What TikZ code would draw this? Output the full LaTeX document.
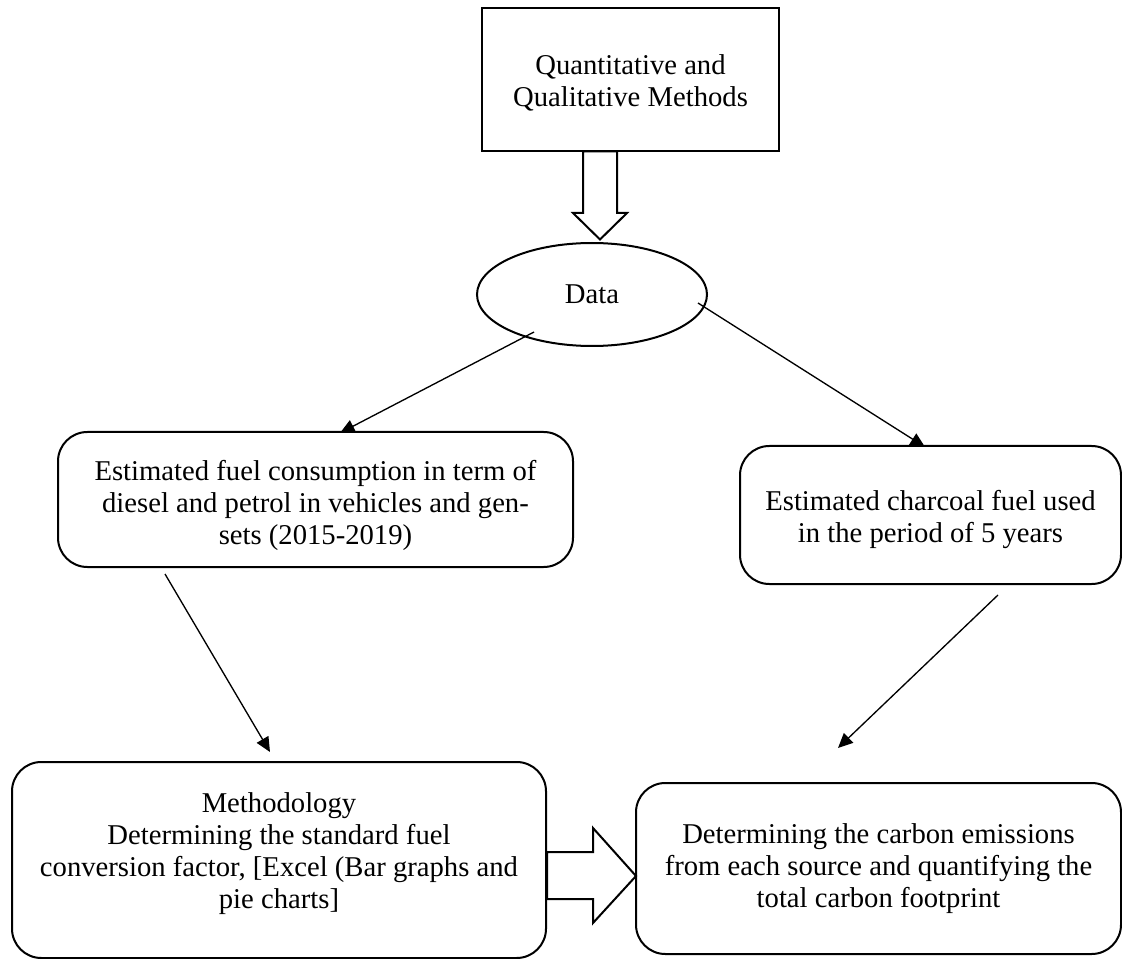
\documentclass[tikz,border=0pt]{standalone}
\usepackage{fontspec}
\setmainfont{Liberation Serif}
\usetikzlibrary{arrows.meta,shapes.geometric}
\newcommand\shiftedtext[2]{\raisebox{#1}[\height][\depth]{\begin{tabular}{@{}c@{}}#2\end{tabular}}}
\tikzset{
  sqbox/.style={draw,line width=1.5pt,rectangle,align=center,inner sep=0pt},
  rbox/.style={draw,line width=1.5pt,rectangle,rounded corners=22pt,align=center,inner sep=0pt},
  oval/.style={draw,line width=1.5pt,ellipse,inner sep=0pt},
  conn/.style={line width=1pt,-{Triangle[length=11pt,width=10pt]}},
  hollow/.style={draw,line width=1.5pt,fill=white,line join=miter}
}
\begin{document}
\begin{tikzpicture}[x=0.75pt,y=-0.75pt,font=\fontsize{21.5}{24}\selectfont]
\useasboundingbox (0,0) rectangle (1122,959);
\node[sqbox,minimum width=222.75pt,minimum height=107.25pt] (top) at (630.5,79.5) {\shiftedtext{-3.75pt}{Quantitative and\\Qualitative Methods}};
\node[oval,minimum width=172.5pt,minimum height=77.25pt] (data) at (592,294.5) {Data};
\node[rbox,minimum width=386.25pt,minimum height=101.25pt] (fuel) at (315.5,499.5) {\shiftedtext{-5pt}{Estimated fuel consumption in term of\\diesel and petrol in vehicles and gen-\\sets (2015-2019)}};
\node[rbox,minimum width=285.75pt,minimum height=103.5pt] (char) at (930.5,515) {\shiftedtext{-3.75pt}{Estimated charcoal fuel used\\in the period of 5 years}};
\node[rbox,minimum width=400.5pt,minimum height=147pt] (meth) at (279,860) {\shiftedtext{4.5pt}{Methodology\\Determining the standard fuel\\conversion factor, [Excel (Bar graphs and\\pie charts]}};
\node[rbox,minimum width=363.75pt,minimum height=128.25pt] (emis) at (878.5,868.5) {Determining the carbon emissions\\from each source and quantifying the\\total carbon footprint};
% connector end points
\coordinate (s1) at (534,332);
\coordinate (e1) at (340,433);
\coordinate (s2) at (698,303);
\coordinate (e2) at (925,447);
\coordinate (s3) at (165,574);
\coordinate (e3) at (270,752);
\coordinate (s4) at (998,595);
\coordinate (e4) at (838,748);
\draw[conn] (s1) -- (e1);
\draw[conn] (s2) -- (e2);
\draw[conn] (s3) -- (e3);
\draw[conn] (s4) -- (e4);
% hollow block arrows
\path[hollow] (583,151.5) -- (583,213) -- (573,213) -- (600,239.5) -- (627,213) -- (617,213) -- (617,151.5) -- cycle;
\path[hollow] (547,852) -- (593,852) -- (593,828) -- (636,876) -- (593,923) -- (593,899) -- (547,899) -- cycle;
\end{tikzpicture}
\end{document}
